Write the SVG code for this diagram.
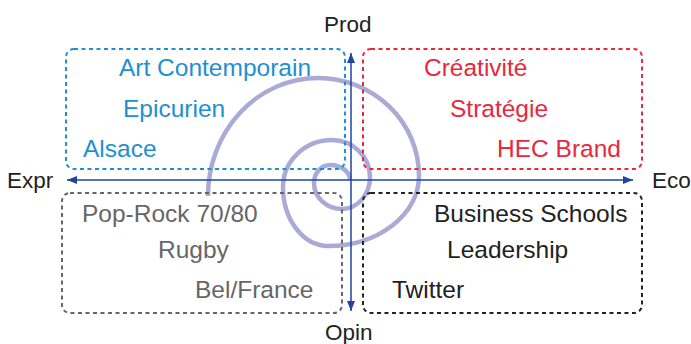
<svg xmlns="http://www.w3.org/2000/svg" width="691" height="344" viewBox="0 0 691 344">
<defs>
<marker id="ah" viewBox="0 0 10 8" refX="10" refY="4" markerWidth="10" markerHeight="8" markerUnits="userSpaceOnUse" orient="auto-start-reverse">
<path d="M0,0 L10,4 L0,8 z" fill="#1f45a0"/>
</marker>
<style>
text{font-family:"Liberation Sans",Arial,sans-serif;font-size:24.5px}
.ax{font-size:22.5px;fill:#222}
.box{fill:none;stroke-width:2;stroke-dasharray:4 3.5}
.axis{stroke:#1f45a0;stroke-width:1.5;fill:none}
.blue{fill:#1e8fd2}.red{fill:#e8283c}.gray{fill:#666}.black{fill:#222}
</style>
</defs>
<rect width="691" height="344" fill="#fff"/>
<g id="spiral">
<path d="M208,196 A110,118 0 0 1 318,78 A101,98 0 0 1 419,176 A91,70 0 0 1 328,246 A45,59 0 0 1 283,187 A49,47 0 0 1 332,140 A38,37 0 0 1 370,177 A28,32 0 0 1 342,209 A28,26 0 0 1 314,183 A16,18 0 0 1 330,165 A20,15 0 0 1 350,180" fill="none" stroke="#aaaad6" stroke-width="4.5"/>
</g>
<g id="node-expr-prod">
<rect class="box" x="66" y="49" width="279" height="120" rx="8" stroke="#1e8fd2"/>
<text class="blue" x="119" y="76">Art Contemporain</text>
<text class="blue" x="123" y="117">Epicurien</text>
<text class="blue" x="83" y="157">Alsace</text>
</g>
<g id="node-eco-prod">
<rect class="box" x="363" y="49" width="279" height="120" rx="8" stroke="#e8283c"/>
<text class="red" x="424" y="76">Créativité</text>
<text class="red" x="450" y="117">Stratégie</text>
<text class="red" x="497" y="157">HEC Brand</text>
</g>
<g id="node-expr-opin">
<rect class="box" x="62" y="193" width="280" height="120" rx="8" stroke="#666"/>
<text class="gray" x="82" y="222">Pop-Rock 70/80</text>
<text class="gray" x="158" y="258">Rugby</text>
<text class="gray" x="195" y="298">Bel/France</text>
</g>
<g id="node-eco-opin">
<rect class="box" x="363" y="193" width="279" height="120" rx="8" stroke="#222"/>
<text class="black" x="434" y="222">Business Schools</text>
<text class="black" x="447" y="258">Leadership</text>
<text class="black" x="392" y="298">Twitter</text>
</g>
<g id="connectors">
<line class="axis" x1="67" y1="180" x2="633" y2="180" marker-start="url(#ah)" marker-end="url(#ah)"/>
<line class="axis" x1="351" y1="53" x2="351" y2="311" marker-start="url(#ah)" marker-end="url(#ah)"/>
</g>
<g id="axis-labels">
<text class="ax" x="324" y="32">Prod</text>
<text class="ax" x="7" y="188">Expr</text>
<text class="ax" x="652" y="188">Eco</text>
<text class="ax" x="325" y="340">Opin</text>
</g>
</svg>
